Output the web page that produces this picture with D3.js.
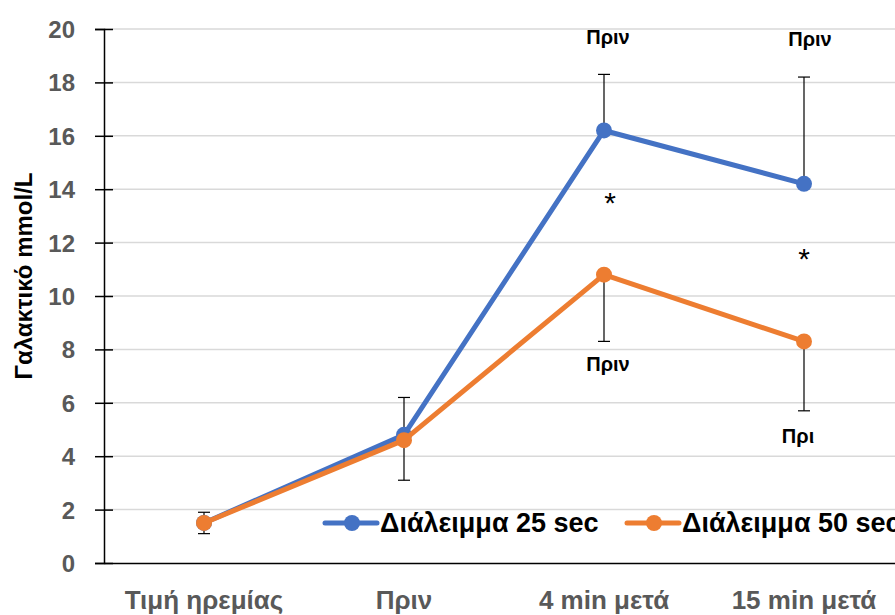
<!DOCTYPE html>
<html>
<head>
<meta charset="utf-8">
<script src="https://cdn.jsdelivr.net/npm/d3@7"></script>
<style>
  html, body { margin: 0; padding: 0; background: #fff; }
  svg { display: block; font-family: "Liberation Sans", Arial, sans-serif; }
</style>
</head>
<body>
<svg id="chart" width="895" height="615"></svg>
<script>
// Lactate measurements for two rest-interval protocols
const categories = ["Τιμή ηρεμίας", "Πριν", "4 min μετά", "15 min μετά"];
const seriesNames = ["Διάλειμμα 25 sec", "Διάλειμμα 50 sec"];
const values25 = [1.5, 4.8, 16.2, 14.2];
const values50 = [1.5, 4.6, 10.8, 8.3];
// one-sided error bars: upward for 25 sec, downward for 50 sec
const errUp25 = [0.4, 1.4, 2.1, 4.0];
const errDown50 = [0.4, 1.5, 2.5, 2.6];
const yTicks = [0, 2, 4, 6, 8, 10, 12, 14, 16, 18, 20];
const yTitle = "Γαλακτικό mmol/L";
// annotation texts placed per category
const noteTop = ["", "", "Πριν", "Πριν"];
const noteBottom = ["", "", "Πριν", "Πρι"];
const stars = ["", "", "*", "*"];

const colors = ["#4472C4", "#ED7D31"];

const svg = d3.select("#chart");
const plotLeft = 104, plotTop = 29, plotBottom = 563, bandW = 200;

const x = d3.scaleBand().domain(categories)
  .range([plotLeft, plotLeft + bandW * categories.length]).paddingInner(0).paddingOuter(0);
const y = d3.scaleLinear().domain([0, 20]).range([plotBottom, plotTop]);
const cx = c => x(c) + x.bandwidth() / 2;

// horizontal gridlines
svg.append("g").selectAll("line").data(yTicks.filter(t => t > 0)).join("line")
  .attr("x1", plotLeft).attr("x2", 895)
  .attr("y1", d => y(d)).attr("y2", d => y(d))
  .attr("stroke", "#d9d9d9").attr("stroke-width", 1.5);

// y axis with ticks crossing the axis line
const yAxis = svg.append("g").attr("transform", `translate(${plotLeft},0)`)
  .call(d3.axisLeft(y).tickValues(yTicks).tickSize(9).tickPadding(20));
yAxis.select(".domain").attr("stroke", "#000").attr("stroke-width", 1.5);
yAxis.selectAll(".tick line").attr("stroke", "#000").attr("stroke-width", 1.5).attr("x2", 9).attr("x1", -9);
yAxis.selectAll(".tick text")
  .attr("fill", "#595959").attr("font-size", 24).attr("font-weight", "bold").attr("dy", "0.35em");

// x axis line and category labels
const xAxis = svg.append("g").attr("transform", `translate(0,${plotBottom})`)
  .call(d3.axisBottom(x).tickSize(0).tickPadding(28));
xAxis.select(".domain").attr("stroke", "#000").attr("stroke-width", 1.5);
xAxis.selectAll(".tick text")
  .attr("fill", "#595959").attr("font-size", 26).attr("font-weight", "bold");

// y axis title
svg.append("text")
  .attr("transform", `translate(24,276) rotate(-90)`)
  .attr("text-anchor", "middle").attr("dy", "0.35em")
  .attr("font-size", 24).attr("font-weight", "bold").attr("fill", "#000")
  .text(yTitle);

// error bars
function errorBar(cat, v0, v1) {
  const g = svg.append("g").attr("stroke", "#000").attr("stroke-width", 1.2);
  g.append("line").attr("x1", cx(cat)).attr("x2", cx(cat)).attr("y1", y(v0)).attr("y2", y(v1));
  g.append("line").attr("x1", cx(cat) - 6).attr("x2", cx(cat) + 6).attr("y1", y(v1)).attr("y2", y(v1));
}
categories.forEach((c, i) => {
  errorBar(c, values25[i], values25[i] + errUp25[i]);
  errorBar(c, values50[i], values50[i] - errDown50[i]);
});

// series lines and markers
const line = d3.line().x((d, i) => cx(categories[i])).y(d => y(d));
[values25, values50].forEach((vals, s) => {
  svg.append("path").datum(vals)
    .attr("d", line).attr("fill", "none")
    .attr("stroke", colors[s]).attr("stroke-width", 5).attr("stroke-linejoin", "round");
  svg.append("g").selectAll("circle").data(vals).join("circle")
    .attr("cx", (d, i) => cx(categories[i])).attr("cy", d => y(d))
    .attr("r", 8).attr("fill", colors[s]);
});

// annotations
const noteStyle = sel => sel.attr("font-size", 20).attr("font-weight", "bold")
  .attr("fill", "#000").attr("text-anchor", "middle");
categories.forEach((c, i) => {
  if (noteTop[i]) svg.append("text").call(noteStyle)
    .attr("x", cx(c) + (i === 2 ? 4 : 6)).attr("y", i === 2 ? 44 : 46).text(noteTop[i]);
  if (noteBottom[i]) svg.append("text").call(noteStyle)
    .attr("x", cx(c) + (i === 2 ? 4 : -6)).attr("y", i === 2 ? 371 : 443).text(noteBottom[i]);
  if (stars[i]) svg.append("text").call(noteStyle)
    .attr("font-size", 30).attr("font-weight", "normal")
    .attr("x", cx(c) + (i === 2 ? 6 : 0)).attr("y", i === 2 ? 213 : 269).text(stars[i]);
});

// legend
const legend = svg.append("g");
const legX = [325, 627];
seriesNames.forEach((name, s) => {
  const g = legend.append("g").attr("transform", `translate(${legX[s]},523)`);
  g.append("line").attr("x1", 0).attr("x2", 52).attr("y1", 0).attr("y2", 0)
    .attr("stroke", colors[s]).attr("stroke-width", 5).attr("stroke-linecap", "round");
  g.append("circle").attr("cx", 27).attr("cy", 0).attr("r", 8).attr("fill", colors[s]);
  g.append("text").attr("x", 55).attr("y", 0).attr("dy", "0.35em")
    .attr("font-size", 27).attr("font-weight", "bold").attr("fill", "#000").text(name);
});
</script>
</body>
</html>
